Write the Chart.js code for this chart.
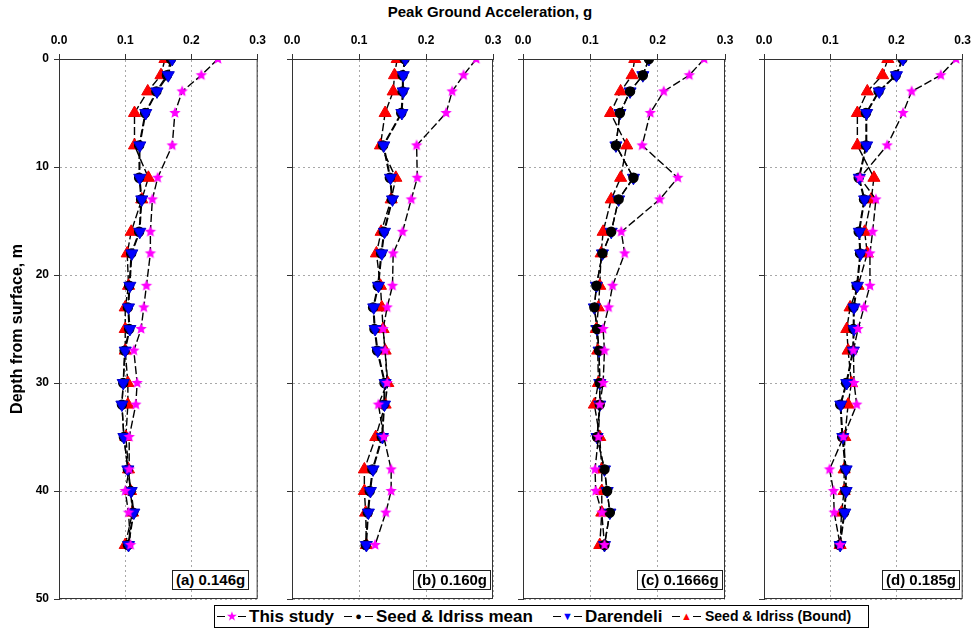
<!DOCTYPE html>
<html>
<head>
<meta charset="utf-8">
<script src="https://cdn.jsdelivr.net/npm/chart.js@4.4.1/dist/chart.umd.min.js"></script>
<style>
  body { margin: 0; background: #fff; font-family: "Liberation Sans", Arial, sans-serif; }
  #wrap { position: relative; width: 977px; height: 629px; overflow: hidden; }
  canvas { position: absolute; top: 0; }
  #title { position: absolute; left: 0; width: 980px; top: 3px; text-align: center; font-weight: bold; font-size: 15px; }
  .tag { position: absolute; top: 570px; height: 18px; line-height: 18px; padding: 0 3px; border: 1px solid #222;
         background: #fff; font-weight: bold; font-size: 15px; white-space: nowrap; }
  #legend { position: absolute; left: 214px; top: 605px; width: 653px; height: 21px; border: 1px solid #000; background: #fff; }
  .seg { position: absolute; top: 0; height: 21px; width: 29px; }
  .seg i { position: absolute; left: 0; right: 0; top: 10px; border-top: 1.5px solid #000; }
  .seg b { position: absolute; left: 8px; width: 13px; top: 0; line-height: 21px; text-align: center; font-size: 11px; background: #fff; }
  .txt { position: absolute; top: 0; height: 21px; line-height: 21px; font-weight: bold; font-size: 17px; white-space: nowrap; }
</style>
</head>
<body>
<div id="wrap">
  <div id="title">Peak Ground Acceleration, g</div>
  <canvas id="pa" width="272" height="629" style="left:0px"></canvas>
  <canvas id="pb" width="250" height="629" style="left:262px"></canvas>
  <canvas id="pc" width="250" height="629" style="left:495px"></canvas>
  <canvas id="pd" width="242" height="629" style="left:735px"></canvas>
  <div class="tag" style="left:172px">(a) 0.146g</div>
  <div class="tag" style="left:413px">(b) 0.160g</div>
  <div class="tag" style="left:637px">(c) 0.1666g</div>
  <div class="tag" style="left:882px">(d) 0.185g</div>
  <div id="legend">
    <span class="seg" style="left:2px"><i></i><b style="color:#ff00ff">★</b></span>
    <span class="txt" style="left:34px">This study</span>
    <span class="seg" style="left:129px"><i></i><b style="color:#000">●</b></span>
    <span class="txt" style="left:161px">Seed &amp; Idriss mean</span>
    <span class="seg" style="left:338px"><i></i><b style="color:#0000ff">▼</b></span>
    <span class="txt" style="left:370px">Darendeli</span>
    <span class="seg" style="left:457px"><i></i><b style="color:#ff0000">▲</b></span>
    <span class="txt" style="left:490px; font-size:14px">Seed &amp; Idriss (Bound)</span>
  </div>
</div>
<script>
// depth of each profile point, m
const depth = [0, 1.5, 3, 5, 8, 11, 13, 16, 18, 21, 23, 25, 27, 30, 32, 35, 38, 40, 42, 45];

// (a) 0.146g
const studyA     = [0.240, 0.215, 0.186, 0.175, 0.171, 0.149, 0.141, 0.138, 0.138, 0.132, 0.128, 0.124, 0.113, 0.118, 0.116, 0.106, 0.106, 0.100, 0.105, 0.108];
const meanA      = [0.169, 0.163, 0.147, 0.130, 0.121, 0.121, 0.124, 0.121, 0.109, 0.106, 0.104, 0.106, 0.099, 0.097, 0.095, 0.098, 0.104, 0.108, 0.112, 0.104];
const darendeliA = [0.171, 0.165, 0.148, 0.131, 0.122, 0.122, 0.125, 0.122, 0.110, 0.107, 0.105, 0.107, 0.100, 0.097, 0.095, 0.098, 0.104, 0.109, 0.113, 0.105];
const boundA     = [0.160, 0.154, 0.134, 0.114, 0.114, 0.135, 0.125, 0.109, 0.103, 0.105, 0.100, 0.100, 0.100, 0.104, 0.104, 0.101, 0.105, 0.108, 0.111, 0.100];

// (b) 0.160g
const studyB     = [0.275, 0.256, 0.239, 0.230, 0.186, 0.187, 0.178, 0.165, 0.151, 0.150, 0.142, 0.136, 0.139, 0.142, 0.129, 0.137, 0.148, 0.148, 0.140, 0.124];
const meanB      = [0.168, 0.165, 0.165, 0.163, 0.136, 0.146, 0.149, 0.137, 0.133, 0.128, 0.121, 0.123, 0.127, 0.138, 0.137, 0.134, 0.120, 0.116, 0.113, 0.110];
const darendeliB = [0.169, 0.166, 0.166, 0.164, 0.137, 0.147, 0.150, 0.138, 0.134, 0.129, 0.122, 0.124, 0.128, 0.139, 0.138, 0.135, 0.121, 0.117, 0.114, 0.111];
const boundB     = [0.157, 0.153, 0.151, 0.139, 0.132, 0.155, 0.148, 0.133, 0.126, 0.132, 0.134, 0.136, 0.139, 0.143, 0.139, 0.125, 0.108, 0.108, 0.110, 0.111];

// (c) 0.1666g
const studyC     = [0.269, 0.247, 0.209, 0.189, 0.177, 0.230, 0.203, 0.146, 0.151, 0.133, 0.127, 0.119, 0.121, 0.119, 0.114, 0.112, 0.107, 0.108, 0.117, 0.121];
const meanC      = [0.187, 0.178, 0.159, 0.144, 0.138, 0.164, 0.142, 0.131, 0.118, 0.109, 0.106, 0.110, 0.113, 0.114, 0.114, 0.110, 0.121, 0.125, 0.129, 0.121];
const darendeliC = [0.187, 0.178, 0.159, 0.144, 0.138, 0.164, 0.142, 0.131, 0.118, 0.109, 0.106, 0.110, 0.113, 0.114, 0.114, 0.110, 0.121, 0.125, 0.129, 0.121];
const boundC     = [0.166, 0.162, 0.145, 0.130, 0.154, 0.145, 0.131, 0.119, 0.116, 0.114, 0.112, 0.109, 0.111, 0.112, 0.106, 0.114, 0.117, 0.117, 0.117, 0.114];

// (d) 0.185g
const studyD     = [0.290, 0.267, 0.223, 0.210, 0.186, 0.145, 0.169, 0.164, 0.160, 0.160, 0.151, 0.142, 0.135, 0.136, 0.140, 0.120, 0.099, 0.105, 0.106, 0.115];
const meanD      = [0.209, 0.199, 0.173, 0.154, 0.154, 0.143, 0.151, 0.143, 0.145, 0.140, 0.135, 0.135, 0.134, 0.124, 0.115, 0.118, 0.123, 0.123, 0.121, 0.114];
const darendeliD = [0.210, 0.200, 0.174, 0.155, 0.155, 0.144, 0.152, 0.144, 0.146, 0.141, 0.136, 0.136, 0.135, 0.125, 0.116, 0.119, 0.124, 0.124, 0.122, 0.115];
const boundD     = [0.187, 0.179, 0.156, 0.141, 0.141, 0.166, 0.162, 0.152, 0.156, 0.142, 0.130, 0.125, 0.127, 0.132, 0.127, 0.122, 0.121, 0.121, 0.117, 0.115];

const xTicks = [0, 0.1, 0.2, 0.3];
const yTicks = [0, 10, 20, 30, 40, 50];

const FONT = '"Liberation Sans", Arial, sans-serif';

// filled 5-point star for "This study"
function starImage(r, color) {
  const c = document.createElement('canvas');
  const s = Math.ceil(r * 2) + 2;
  c.width = c.height = s;
  const g = c.getContext('2d');
  g.beginPath();
  for (let i = 0; i < 10; i++) {
    const rr = i % 2 ? r * 0.45 : r;
    const a = -Math.PI / 2 + i * Math.PI / 5;
    g.lineTo(s / 2 + rr * Math.cos(a), s / 2 + rr * Math.sin(a));
  }
  g.closePath();
  g.fillStyle = color;
  g.fill();
  return c;
}
const star = starImage(6, '#ff00ff');

const pts = vals => vals.map((v, i) => ({ x: v, y: depth[i] }));

function series(label, vals, style, order) {
  const base = {
    label: label,
    data: pts(vals),
    showLine: true,
    borderColor: '#000',
    borderWidth: 1.4,
    borderDash: [8, 3],
    order: order
  };
  return Object.assign(base, style);
}

// box around each plot area
const frame = {
  id: 'frame',
  afterDraw(chart) {
    const a = chart.chartArea, ctx = chart.ctx;
    ctx.save();
    ctx.strokeStyle = '#333';
    ctx.lineWidth = 1;
    ctx.strokeRect(a.left + 0.5, a.top + 0.5, a.right - a.left - 1, a.bottom - a.top - 1);
    ctx.restore();
  }
};

function panel(id, yWidth, padRight, study, mean, darendeli, bound, meanOnTop, showY) {
  new Chart(document.getElementById(id), {
    type: 'scatter',
    data: {
      datasets: [
        series('This study', study, { pointStyle: star }, 0),
        series('Seed & Idriss mean', mean, { pointStyle: 'circle', pointRadius: 4.5, backgroundColor: '#000', pointBorderColor: '#000' }, meanOnTop ? 1 : 2),
        series('Darendeli', darendeli, { pointStyle: 'triangle', pointRotation: 180, pointRadius: 7, backgroundColor: '#0000ff', pointBorderColor: '#0000cc', pointBorderWidth: 1 }, meanOnTop ? 2 : 1),
        series('Seed & Idriss (Bound)', bound, { pointStyle: 'triangle', pointRadius: 7, backgroundColor: '#ff0000', pointBorderColor: '#ee0000', pointBorderWidth: 1 }, 3)
      ]
    },
    options: {
      responsive: false,
      animation: false,
      layout: { padding: { top: 0, bottom: 30, left: 0, right: padRight } },
      plugins: { legend: { display: false }, tooltip: { enabled: false } },
      scales: {
        x: {
          type: 'linear',
          position: 'top',
          min: 0, max: 0.3,
          afterBuildTicks: s => { s.ticks = xTicks.map(v => ({ value: v })); },
          afterFit: s => { s.height = 59; },
          ticks: { color: '#000', padding: 6, maxRotation: 0, font: { family: FONT, size: 12, weight: 'bold' },
                   callback: v => v.toFixed(1) },
          grid: { color: '#a8a8a8', lineWidth: 1, tickLength: 5, tickColor: '#333', tickBorderDash: [] },
          border: { color: '#333', dash: [2, 3] }
        },
        y: {
          type: 'linear',
          reverse: true,
          min: 0, max: 50,
          afterBuildTicks: s => { s.ticks = yTicks.map(v => ({ value: v })); },
          afterFit: s => { s.width = yWidth; },
          ticks: { display: showY, color: '#000', padding: 5, font: { family: FONT, size: 12, weight: 'bold' } },
          grid: { color: '#a8a8a8', lineWidth: 1, tickLength: 5, tickColor: '#333', tickBorderDash: [] },
          border: { color: '#333', dash: [2, 3] },
          title: { display: showY, text: 'Depth from surface, m', color: '#000', padding: { top: 8 },
                   font: { family: FONT, size: 16, weight: 'bold' } }
        }
      }
    },
    plugins: [frame]
  });
}

panel('pa', 59, 11, studyA, meanA, darendeliA, boundA, false, true);
panel('pb', 30, 19, studyB, meanB, darendeliB, boundB, false, false);
panel('pc', 28, 20, studyC, meanC, darendeliC, boundC, true, false);
panel('pd', 29, 12, studyD, meanD, darendeliD, boundD, false, false);
</script>
</body>
</html>
